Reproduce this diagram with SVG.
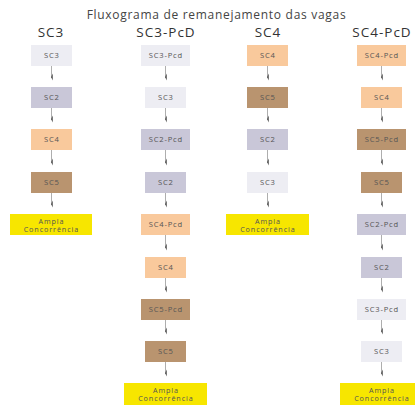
<svg xmlns="http://www.w3.org/2000/svg" width="415" height="405" viewBox="0 0 415 405">
<defs>
<marker id="ah" markerWidth="8" markerHeight="5" refX="4" refY="4" orient="auto" markerUnits="userSpaceOnUse" viewBox="0 0 8 5">
<path d="M0.5,2.6 L7.5,2.6 L4,4.6 Z" fill="#666"/>
</marker>
</defs>
<style>
text{font-family:"Open Sans","DejaVu Sans",sans-serif;text-anchor:middle}
.title{font-size:12px;fill:#444;letter-spacing:0.7px}
.hd{font-size:13.5px;fill:#333;letter-spacing:1px}
.t{font-size:7.6px;fill:#555;letter-spacing:0.8px}
.a{font-size:7.2px;fill:#555;letter-spacing:0.9px}
.lt{fill:#EDEDF3}
.s2{fill:#C9C7D8}
.s4{fill:#F9C99C}
.s5{fill:#B9946F}
.am{fill:#F7E600}
.c line{stroke:#999;stroke-width:0.8;marker-end:url(#ah)}
</style>
<rect width="415" height="405" fill="#fff"/>
<text class="title" x="216.5" y="19">Fluxograma de remanejamento das vagas</text>
<g id="headers">
<text class="hd" x="51" y="37">SC3</text>
<text class="hd" x="166" y="37">SC3-PcD</text>
<text class="hd" x="268" y="37">SC4</text>
<text class="hd" x="382" y="37">SC4-PcD</text>
</g>
<g id="c1">
<g id="c1n1"><rect class="lt" x="31" y="45" width="41" height="21"/><text class="t" x="51.9" y="58.3">SC3</text></g>
<g id="c1n2"><rect class="s2" x="31" y="87" width="41" height="21"/><text class="t" x="51.9" y="100.3">SC2</text></g>
<g id="c1n3"><rect class="s4" x="31" y="129" width="41" height="21"/><text class="t" x="51.9" y="142.3">SC4</text></g>
<g id="c1n4"><rect class="s5" x="31" y="172" width="41" height="21"/><text class="t" x="51.9" y="185.3">SC5</text></g>
<g id="c1n5"><rect class="am" x="10" y="214" width="82" height="21"/><text class="a" x="51.4" y="223.5">Ampla</text><text class="a" x="51.4" y="232.3">Concorrência</text></g>
</g>
<g id="c2">
<g id="c2n1"><rect class="lt" x="141" y="45" width="49" height="21"/><text class="t" x="165.9" y="58.3">SC3-Pcd</text></g>
<g id="c2n2"><rect class="lt" x="145" y="87" width="41" height="21"/><text class="t" x="165.9" y="100.3">SC3</text></g>
<g id="c2n3"><rect class="s2" x="141" y="129" width="49" height="21"/><text class="t" x="165.9" y="142.3">SC2-Pcd</text></g>
<g id="c2n4"><rect class="s2" x="145" y="172" width="41" height="21"/><text class="t" x="165.9" y="185.3">SC2</text></g>
<g id="c2n5"><rect class="s4" x="141" y="214" width="49" height="21"/><text class="t" x="165.9" y="227.3">SC4-Pcd</text></g>
<g id="c2n6"><rect class="s4" x="145" y="257" width="41" height="21"/><text class="t" x="165.9" y="270.3">SC4</text></g>
<g id="c2n7"><rect class="s5" x="141" y="299" width="49" height="21"/><text class="t" x="165.9" y="312.3">SC5-Pcd</text></g>
<g id="c2n8"><rect class="s5" x="145" y="341" width="41" height="21"/><text class="t" x="165.9" y="354.3">SC5</text></g>
<g id="c2n9"><rect class="am" x="124" y="383" width="83" height="22"/><text class="a" x="165.9" y="392.5">Ampla</text><text class="a" x="165.9" y="401.3">Concorrência</text></g>
</g>
<g id="c3">
<g id="c3n1"><rect class="s4" x="247" y="45" width="41" height="21"/><text class="t" x="267.9" y="58.3">SC4</text></g>
<g id="c3n2"><rect class="s5" x="247" y="87" width="41" height="21"/><text class="t" x="267.9" y="100.3">SC5</text></g>
<g id="c3n3"><rect class="s2" x="247" y="129" width="41" height="21"/><text class="t" x="267.9" y="142.3">SC2</text></g>
<g id="c3n4"><rect class="lt" x="247" y="172" width="41" height="21"/><text class="t" x="267.9" y="185.3">SC3</text></g>
<g id="c3n5"><rect class="am" x="226" y="214" width="83" height="21"/><text class="a" x="267.9" y="223.5">Ampla</text><text class="a" x="267.9" y="232.3">Concorrência</text></g>
</g>
<g id="c4">
<g id="c4n1"><rect class="s4" x="357" y="45" width="49" height="21"/><text class="t" x="381.9" y="58.3">SC4-Pcd</text></g>
<g id="c4n2"><rect class="s4" x="361" y="87" width="41" height="21"/><text class="t" x="381.9" y="100.3">SC4</text></g>
<g id="c4n3"><rect class="s5" x="357" y="129" width="49" height="21"/><text class="t" x="381.9" y="142.3">SC5-Pcd</text></g>
<g id="c4n4"><rect class="s5" x="361" y="172" width="41" height="21"/><text class="t" x="381.9" y="185.3">SC5</text></g>
<g id="c4n5"><rect class="s2" x="357" y="214" width="49" height="21"/><text class="t" x="381.9" y="227.3">SC2-Pcd</text></g>
<g id="c4n6"><rect class="s2" x="361" y="257" width="41" height="21"/><text class="t" x="381.9" y="270.3">SC2</text></g>
<g id="c4n7"><rect class="lt" x="357" y="299" width="49" height="21"/><text class="t" x="381.9" y="312.3">SC3-Pcd</text></g>
<g id="c4n8"><rect class="lt" x="361" y="341" width="41" height="21"/><text class="t" x="381.9" y="354.3">SC3</text></g>
<g id="c4n9"><rect class="am" x="340" y="383" width="83" height="22"/><text class="a" x="381.9" y="392.5">Ampla</text><text class="a" x="381.9" y="401.3">Concorrência</text></g>
</g>
<g id="connectors" class="c">
<line x1="51.5" y1="66" x2="51.5" y2="77"/>
<line x1="51.5" y1="108" x2="51.5" y2="119"/>
<line x1="51.5" y1="150" x2="51.5" y2="162"/>
<line x1="51.5" y1="193" x2="51.5" y2="204"/>
<line x1="165.5" y1="66" x2="165.5" y2="77"/>
<line x1="165.5" y1="108" x2="165.5" y2="119"/>
<line x1="165.5" y1="150" x2="165.5" y2="162"/>
<line x1="165.5" y1="193" x2="165.5" y2="204"/>
<line x1="165.5" y1="235" x2="165.5" y2="247"/>
<line x1="165.5" y1="278" x2="165.5" y2="289"/>
<line x1="165.5" y1="320" x2="165.5" y2="331"/>
<line x1="165.5" y1="362" x2="165.5" y2="373"/>
<line x1="267.5" y1="66" x2="267.5" y2="77"/>
<line x1="267.5" y1="108" x2="267.5" y2="119"/>
<line x1="267.5" y1="150" x2="267.5" y2="162"/>
<line x1="267.5" y1="193" x2="267.5" y2="204"/>
<line x1="381.5" y1="66" x2="381.5" y2="77"/>
<line x1="381.5" y1="108" x2="381.5" y2="119"/>
<line x1="381.5" y1="150" x2="381.5" y2="162"/>
<line x1="381.5" y1="193" x2="381.5" y2="204"/>
<line x1="381.5" y1="235" x2="381.5" y2="247"/>
<line x1="381.5" y1="278" x2="381.5" y2="289"/>
<line x1="381.5" y1="320" x2="381.5" y2="331"/>
<line x1="381.5" y1="362" x2="381.5" y2="373"/>
</g>
</svg>
